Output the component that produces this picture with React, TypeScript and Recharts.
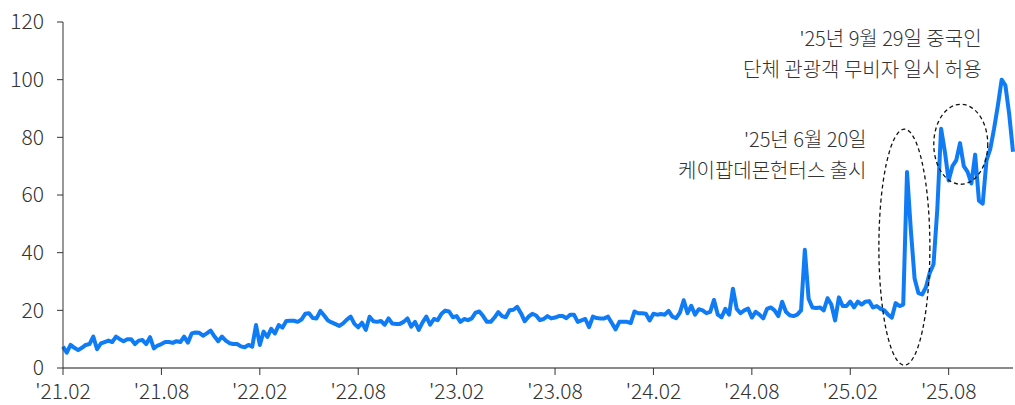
import React from 'react';
import { LineChart, Line, XAxis, YAxis, ReferenceDot } from 'recharts';

// Weekly index values, grouped by the half-year each block starts in
const h2102 = [7.4, 5.3, 8, 7, 6.2, 7, 8, 8.3, 10.9, 6.5, 8.5, 9, 9.5, 9, 10.9, 10, 9.3, 10, 10, 8.3, 9.5, 9.7, 8.3, 10.7, 6.8, 7.8];
const h2108 = [8.3, 9, 9, 8.7, 9.3, 9, 10.9, 8.8, 12, 12.3, 12.2, 11.2, 12, 13, 11, 9.3, 10.9, 9.5, 8.6, 8.3, 8.3, 7.5, 7.2, 8, 7.4, 14.9];
const h2202 = [8, 12.6, 10.8, 13.6, 12, 14.9, 14, 16.3, 16.4, 16.4, 16, 16.8, 18.8, 19, 17.3, 17.2, 19.8, 18.2, 16.5, 15.8, 15.2, 14.6, 15.5, 16.8, 17.8, 15.3];
const h2208 = [14.1, 15.7, 13.2, 17.8, 16.2, 16, 16.3, 15, 17.2, 15.4, 15.3, 15.3, 16, 17.2, 14.3, 16, 13.2, 15.8, 17.8, 15, 17, 16.6, 18.8, 19.9, 19.6, 17.6];
const h2302 = [18, 16, 17, 16.6, 17.2, 19.2, 19.6, 18, 16, 16, 17.5, 19.4, 18, 17.6, 20, 20.2, 21.2, 19, 16.2, 17.8, 18.8, 18.2, 16.6, 17, 18, 17.2];
const h2308 = [17.5, 18, 18, 17.3, 18.5, 18.5, 16, 16.5, 17, 14.2, 17.8, 17.3, 17.2, 17.2, 17.8, 15.6, 13.4, 16, 16, 16, 15.6, 19.6, 19, 19, 18.8, 16.5];
const h2402 = [18.8, 18.5, 18.7, 18.5, 19.8, 17.8, 17.3, 19.2, 23.5, 19, 21.6, 18.5, 20.4, 20, 19, 19.5, 23.6, 18.5, 17.6, 20.5, 18.5, 27.5, 20.5, 19, 20, 20.6];
const h2408 = [17.5, 19.5, 18.5, 17.2, 20.5, 21, 20, 18, 23, 19.5, 18.3, 18, 18.5, 20, 41, 24, 21, 20.8, 21, 20, 24.2, 22, 16.5, 24.5, 21.5, 21.5];
const h2502 = [23, 21, 23, 22, 23, 23.2, 21, 21.5, 20.5, 20, 18.5, 17.5, 22.5, 21.5, 22, 68, 48, 31, 26, 25.5, 28, 33, 36, 55, 83, 75];
const h2508 = [65, 70, 72, 78, 70, 68, 64, 74, 58, 57, 72, 76, 83, 91, 100, 98, 88, 75];

const tickLabels = ["'21.02", "'21.08", "'22.02", "'22.08", "'23.02", "'23.08", "'24.02", "'24.08", "'25.02", "'25.08"];
const tickWeeks = [0, 26, 52, 78, 104, 130, 156, 182, 208, 234];
const yTicks = [0, 20, 40, 60, 80, 100, 120];

const notes = [
  { week: 212.3, value: 79.7, lines: ["'25년 6월 20일", '케이팝데몬헌터스 출시'] },
  { week: 242.7, value: 114.7, lines: ["'25년 9월 29일 중국인", '단체 관광객 무비자 일시 허용'] },
];
const circles = [
  { week: 222.3, value: 41.9, rx: 25.5, ry: 118 },
  { week: 237.2, value: 77.6, rx: 27, ry: 40 },
];

const weekly = [...h2102, ...h2108, ...h2202, ...h2208, ...h2302, ...h2308, ...h2402, ...h2408, ...h2502, ...h2508];
const chartData = weekly.map((value, week) => ({ week, value }));

const FONT = '"Noto Sans CJK KR", "Noto Sans", sans-serif';
const TEXT = '#333';

export default function App() {
  return (
    <div style={{ position: 'absolute', left: 0, top: 0, width: 1015, height: 405, background: '#fff' }}>
      <LineChart width={1015} height={405} data={chartData} margin={{ top: 22, right: 2, bottom: 0, left: 0 }}>
        <XAxis
          dataKey="week"
          type="number"
          domain={[0, weekly.length - 1]}
          ticks={tickWeeks}
          tickFormatter={(w: number) => tickLabels[tickWeeks.indexOf(w)]}
          height={37}
          axisLine={{ stroke: '#8a8a8a', strokeWidth: 2 }}
          tickLine={{ stroke: '#333' }}
          tickSize={7}
          tickMargin={9}
          tick={{ fill: TEXT, fontSize: 21, fontFamily: FONT, fontWeight: 300 }}
          interval={0}
        />
        <YAxis
          domain={[0, 120]}
          ticks={yTicks}
          width={63}
          axisLine={{ stroke: '#333' }}
          tickLine={{ stroke: '#333' }}
          tickSize={6}
          tickMargin={13}
          tick={{ fill: TEXT, fontSize: 21, fontFamily: FONT, fontWeight: 300 }}
          interval={0}
        />
        <Line
          type="linear"
          dataKey="value"
          stroke="#0f7cf6"
          strokeWidth={4}
          strokeLinejoin="round"
          dot={false}
          isAnimationActive={false}
        />
        {circles.map((c, i) => (
          <ReferenceDot
            key={`c${i}`}
            x={c.week}
            y={c.value}
            ifOverflow="visible"
            shape={(p: any) => (
              <ellipse cx={p.cx} cy={p.cy} rx={c.rx} ry={c.ry} fill="none" stroke="#111" strokeWidth={1.3} strokeDasharray="4 3" />
            )}
          />
        ))}
        {notes.map((n, i) => (
          <ReferenceDot
            key={`n${i}`}
            x={n.week}
            y={n.value}
            ifOverflow="visible"
            shape={(p: any) => (
              <text x={p.cx} y={p.cy} textAnchor="end" fill={TEXT} fontSize={20} fontFamily={FONT} fontWeight={300}>
                {n.lines.map((line, j) => (
                  <tspan key={j} x={p.cx} y={p.cy + j * 31} dominantBaseline="central">
                    {line}
                  </tspan>
                ))}
              </text>
            )}
          />
        ))}
      </LineChart>
    </div>
  );
}
